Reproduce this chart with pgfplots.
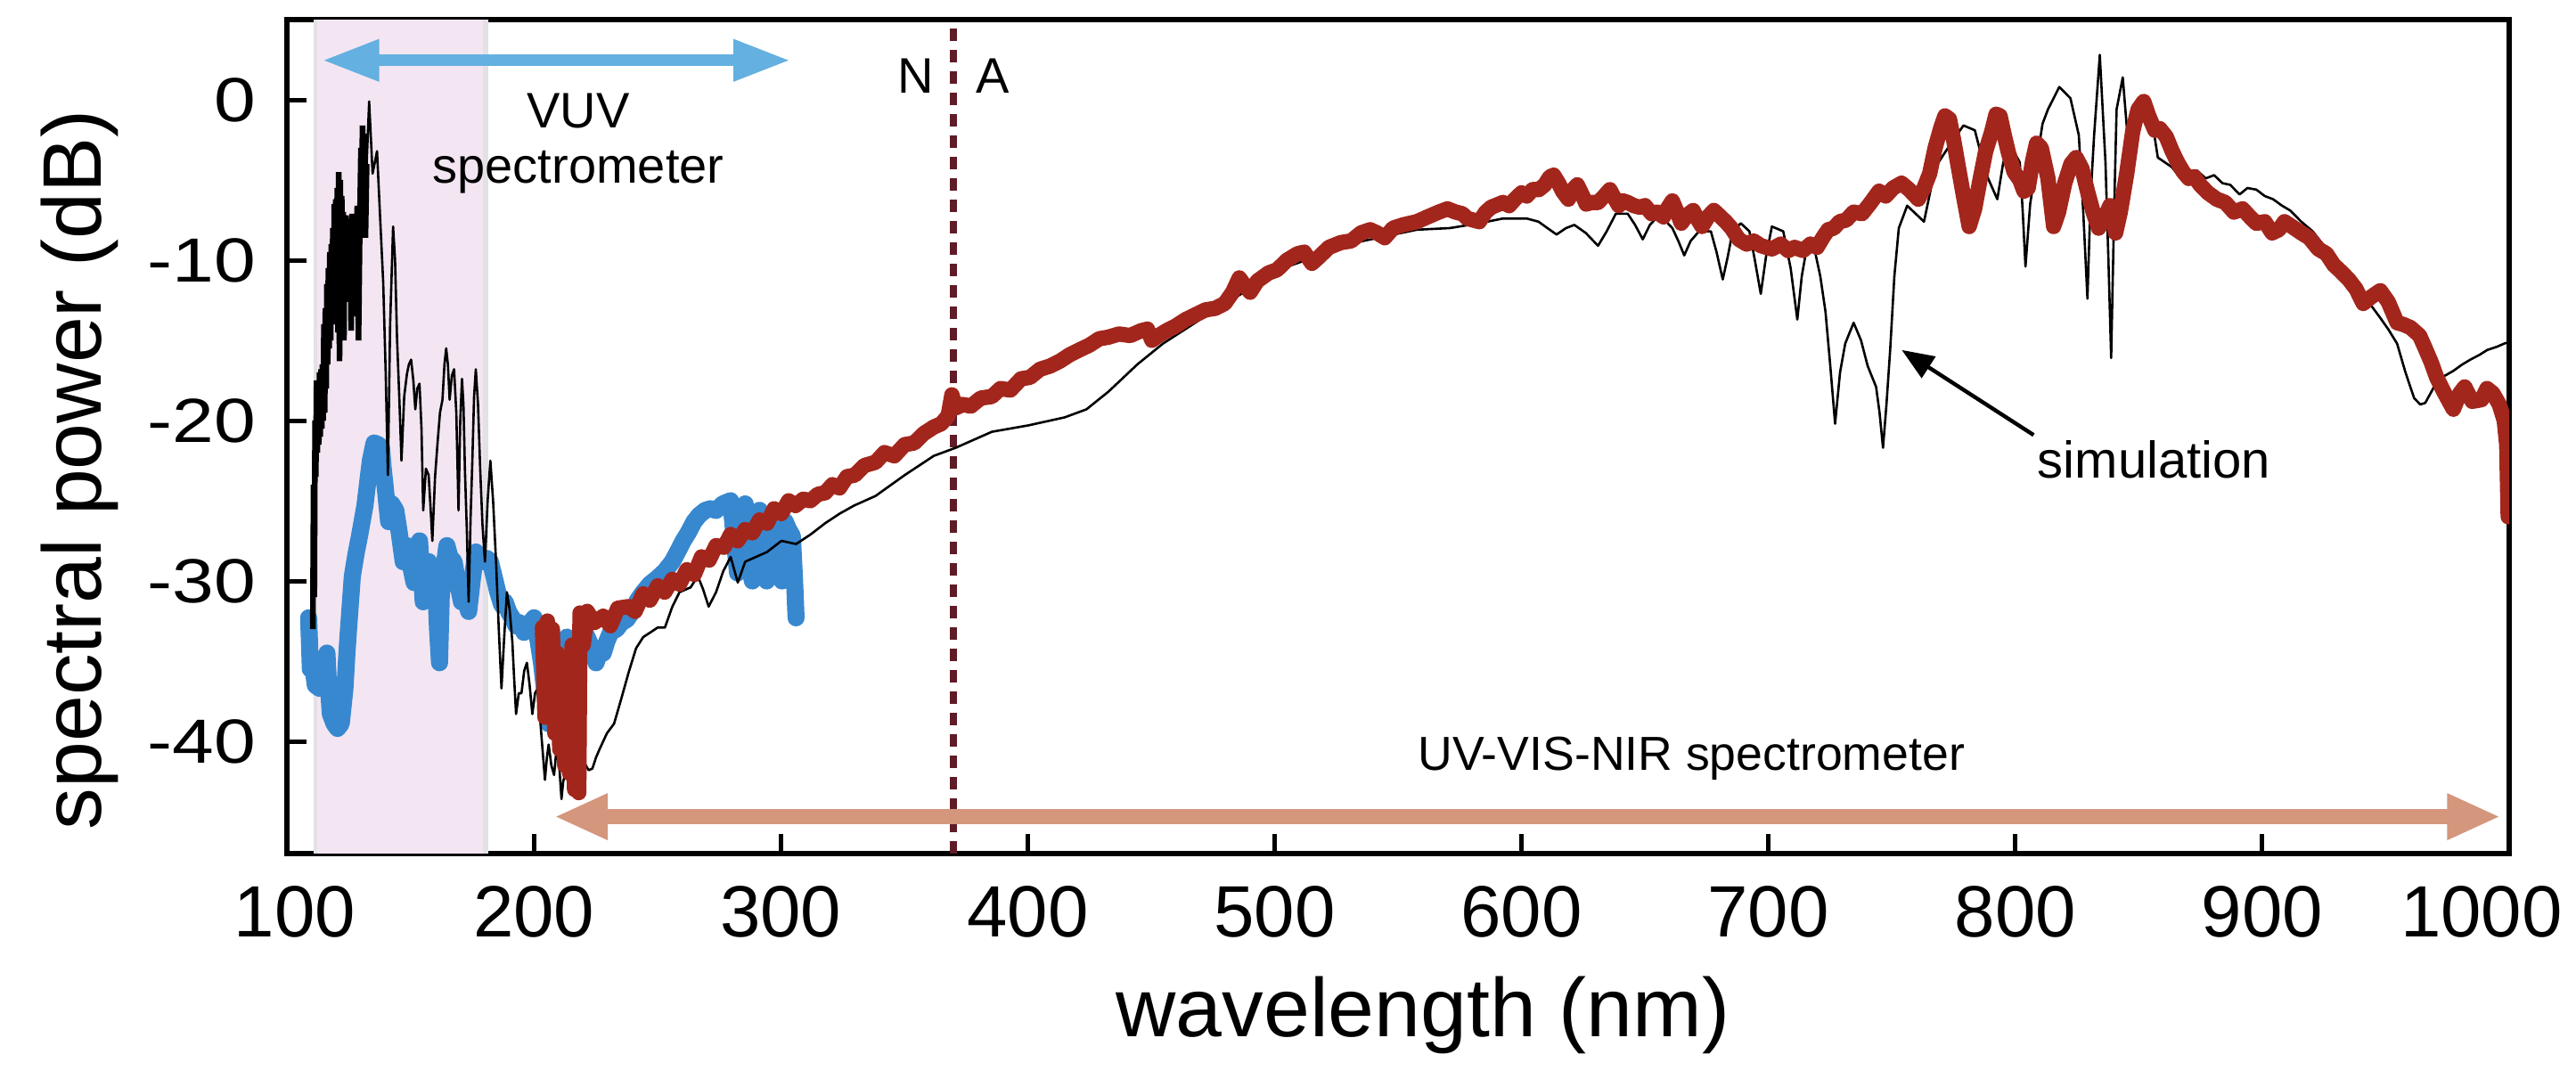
\documentclass[border=0pt]{standalone}
\usepackage{fontspec}
\setmainfont{Liberation Sans}
\newfontfamily\yfont[FakeStretch=1.2]{Liberation Sans}
\usepackage{pgfplots}
\pgfplotsset{compat=1.18}
\usetikzlibrary{arrows.meta}
\definecolor{redline}{RGB}{163,38,28}
\definecolor{blueline}{RGB}{56,136,208}
\definecolor{vuvarrow}{RGB}{100,176,224}
\definecolor{nirarrow}{RGB}{212,150,124}
\definecolor{bandfill}{RGB}{243,230,242}
\definecolor{bandedge}{RGB}{226,226,230}
\definecolor{naline}{RGB}{95,28,38}
\begin{document}
\begin{tikzpicture}
\begin{axis}[
  at={(0,0)}, anchor=south west, scale only axis,
  width=623.5bp, height=234bp,
  xmin=100, xmax=1000, ymin=-47, ymax=5,
  xtick={100,200,300,400,500,600,700,800,900,1000},
  xticklabels={{\hspace*{4.5bp}100},200,300,400,500,600,700,800,{\raisebox{2bp}{900}},{1000\hspace*{15.6bp}}},
  ytick={-40,-30,-20,-10,0},
  yticklabels={-40,-30,-20,-10,0},
  xtick pos=left, ytick pos=left,
  tick align=inside, major tick length=5.5bp,
  tick style={black, line width=1.25bp},
  axis line style={line width=1.5bp},
  xticklabel style={font=\fontsize{20.4bp}{24bp}\selectfont, anchor=north, inner sep=0pt, yshift=-9bp},
  yticklabel style={font=\yfont\fontsize{17.5bp}{20bp}\selectfont, anchor=east, inner sep=0pt, xshift=-8.5bp},
]
% shaded VUV band
\fill[bandfill] (axis cs:110.7,-47) rectangle (axis cs:181.7,5);
\fill[bandedge] (axis cs:110.7,-47) rectangle (axis cs:112.4,5);
\fill[bandedge] (axis cs:179.3,-47) rectangle (axis cs:181.7,5);
% N/A dashed line
\draw[naline, line width=2bp, dash pattern=on 3.5bp off 2.5bp] (axis cs:370,-47) -- (axis cs:370,5);

% VUV spectrometer data (blue)
\addplot[blueline, line width=4.8bp, line join=round, line cap=round] table[row sep=\\] {
x y\\
108.8 -32.3\\ 109.5 -35.5\\ 110.3 -35.1\\ 111.5 -36.5\\ 113.2 -36.7\\ 114.5 -35.5\\ 116.2 -34.5\\ 117.0 -37.0\\
117.6 -38.3\\ 119.1 -38.9\\ 120.5 -39.2\\ 122.0 -38.9\\ 123.5 -36.7\\ 124.3 -34.5\\ 125.0 -32.9\\ 126.5 -29.7\\
128.0 -28.3\\ 129.4 -27.2\\ 131.6 -25.3\\ 133.0 -23.5\\ 133.8 -22.5\\ 135.3 -21.4\\ 137.0 -21.5\\ 138.3 -21.7\\
139.0 -23.0\\ 139.7 -24.0\\ 141.2 -26.3\\ 142.5 -25.2\\ 144.1 -25.6\\ 145.5 -27.0\\ 147.1 -28.8\\ 148.6 -27.8\\
150.0 -29.0\\ 151.5 -30.1\\ 152.5 -28.0\\ 153.7 -27.5\\ 155.2 -31.3\\ 156.3 -29.0\\ 157.4 -28.8\\ 159.0 -29.5\\
160.3 -30.4\\ 161.0 -33.0\\ 161.8 -35.1\\ 162.5 -31.0\\ 163.3 -29.5\\ 164.8 -27.8\\ 166.0 -28.5\\ 167.7 -28.8\\
169.0 -30.0\\ 170.7 -31.3\\ 172.0 -31.0\\ 173.6 -31.9\\ 175.0 -30.0\\ 176.5 -28.2\\ 178.0 -28.5\\ 179.5 -28.8\\
181.0 -28.6\\ 182.4 -28.8\\ 184.0 -29.8\\ 185.4 -30.7\\ 187.0 -31.5\\ 188.3 -31.3\\ 190.0 -32.0\\ 191.3 -32.3\\
192.8 -32.8\\ 194.2 -32.6\\ 196.0 -33.2\\ 197.2 -32.9\\ 199.0 -32.5\\ 200.1 -32.3\\ 201.5 -33.5\\ 203.1 -35.1\\
204.5 -37.0\\ 206.0 -38.9\\ 207.5 -37.0\\ 209.0 -35.0\\ 211.0 -34.0\\ 213.4 -33.5\\ 215.5 -34.2\\ 217.8 -34.5\\
219.5 -33.6\\ 220.7 -33.2\\ 223.0 -34.0\\ 225.2 -35.1\\ 226.8 -34.4\\ 228.1 -34.5\\ 229.5 -33.8\\ 231.1 -33.2\\
233.5 -33.0\\ 235.5 -32.6\\ 237.7 -32.4\\ 239.9 -31.9\\ 242.0 -31.2\\ 244.3 -30.7\\ 247.0 -30.2\\ 250.2 -29.8\\
253.0 -29.4\\ 256.1 -28.8\\ 258.5 -28.1\\ 260.5 -27.5\\ 262.5 -27.0\\ 264.9 -26.3\\ 267.0 -25.9\\ 269.4 -25.6\\
271.5 -25.5\\ 273.8 -25.6\\ 276.5 -25.2\\ 279.7 -25.0\\ 281.0 -27.0\\ 282.5 -29.5\\ 284.0 -26.0\\ 285.6 -25.2\\
287.0 -28.5\\ 288.5 -30.0\\ 290.0 -26.0\\ 291.4 -25.6\\ 293.0 -29.0\\ 294.3 -30.0\\ 295.8 -26.5\\ 297.3 -25.9\\
299.0 -28.5\\ 300.5 -30.0\\ 301.8 -26.3\\ 303.2 -26.8\\ 304.7 -27.2\\ 305.6 -30.0\\ 306.2 -32.3\\
};

% simulation (black): dense part
\addplot[black, line width=1.6bp] table[row sep=\\] {
x y\\
110.5 -33.0\\ 110.8 -24.0\\ 111.1 -31.0\\ 111.4 -20.0\\ 111.7 -23.5\\ 112.0 -17.5\\ 112.3 -22.0\\ 112.6 -18.0\\
112.9 -21.5\\ 113.2 -17.0\\ 113.5 -21.0\\ 113.8 -16.8\\ 114.1 -20.5\\ 114.4 -16.5\\ 114.7 -20.0\\ 115.0 -14.0\\
115.3 -19.5\\ 115.6 -13.0\\ 115.9 -18.0\\ 116.2 -11.5\\ 116.5 -16.5\\ 116.8 -10.5\\ 117.1 -15.5\\ 117.4 -9.5\\
117.7 -15.0\\ 118.0 -9.0\\ 118.3 -14.0\\ 118.6 -8.0\\ 118.9 -13.0\\ 119.2 -6.5\\ 119.5 -12.0\\ 119.8 -6.2\\
120.1 -11.7\\ 120.4 -5.5\\ 120.7 -14.5\\ 121.0 -4.5\\ 121.3 -16.3\\ 121.6 -5.0\\ 121.9 -14.0\\ 122.2 -6.0\\
122.5 -12.0\\ 122.8 -7.0\\ 123.1 -15.0\\ 123.4 -7.5\\ 123.7 -12.5\\ 124.0 -7.2\\ 124.4 -12.6\\ 124.8 -8.0\\
125.2 -12.0\\ 125.6 -7.5\\ 126.0 -14.4\\ 126.5 -7.1\\ 127.0 -13.5\\ 127.5 -7.5\\ 128.0 -12.0\\ 128.5 -6.6\\
129.0 -15.0\\ 129.5 -8.0\\ 130.0 -3.0\\ 130.3 -8.6\\ 130.6 -1.6\\ 131.0 -8.0\\ 131.4 -2.1\\ 131.8 -8.6\\ 132.3 -4.0\\
};
% simulation (black): thin part
\addplot[black, line width=0.65bp, line join=round] table[row sep=\\] {
x y\\
132.3 -4.0\\ 133.3 -0.1\\ 134.7 -4.6\\ 136.5 -3.2\\ 137.8 -7.5\\ 139.0 -11.4\\ 140.0 -17.0\\ 140.9 -23.4\\
141.8 -14.0\\ 143.0 -7.9\\ 143.8 -10.0\\ 144.6 -14.9\\ 145.5 -18.5\\ 146.4 -22.5\\ 147.5 -18.5\\ 148.6 -17.1\\
149.4 -16.5\\ 150.3 -16.2\\ 151.2 -17.5\\ 152.0 -19.3\\ 152.8 -18.0\\ 153.7 -17.7\\ 154.5 -20.5\\ 155.2 -25.6\\
156.3 -23.0\\ 157.4 -23.4\\ 158.2 -25.5\\ 158.9 -27.5\\ 160.0 -23.5\\ 161.1 -21.2\\ 162.0 -19.5\\ 163.0 -18.7\\
163.8 -16.5\\ 164.5 -15.5\\ 165.2 -16.5\\ 165.9 -18.7\\ 166.8 -17.2\\ 167.7 -16.8\\ 168.6 -19.5\\ 169.5 -25.6\\
170.2 -20.0\\ 170.9 -17.4\\ 171.5 -19.0\\ 172.1 -23.1\\ 172.9 -27.0\\ 173.6 -31.3\\ 174.4 -26.0\\ 175.1 -22.5\\
175.8 -18.5\\ 176.5 -16.8\\ 177.4 -19.0\\ 178.3 -23.1\\ 179.2 -26.5\\ 180.2 -28.8\\ 181.3 -25.0\\ 182.4 -22.5\\
183.5 -25.0\\ 184.7 -28.8\\ 185.8 -33.0\\ 186.9 -36.7\\ 188.0 -33.5\\ 189.1 -30.7\\ 190.2 -31.8\\ 191.3 -33.8\\
192.0 -36.0\\ 192.8 -38.3\\ 193.9 -37.0\\ 195.0 -37.0\\ 196.1 -35.6\\ 197.2 -35.1\\ 198.3 -36.5\\ 199.4 -38.3\\
200.5 -37.0\\ 201.6 -36.7\\ 203.0 -39.5\\ 204.5 -42.4\\ 205.3 -41.0\\ 206.0 -40.2\\ 207.1 -41.5\\ 208.2 -42.1\\
209.0 -40.8\\ 209.7 -40.2\\ 210.5 -42.0\\ 211.2 -43.6\\ 211.9 -42.5\\ 212.6 -42.1\\ 213.7 -41.0\\ 214.8 -40.8\\
216.3 -41.5\\ 217.8 -41.5\\ 219.3 -41.2\\ 220.7 -41.4\\ 222.2 -41.8\\ 223.7 -41.7\\ 225.2 -41.0\\ 226.6 -40.5\\
229.6 -39.5\\ 232.5 -38.9\\ 235.5 -37.3\\ 238.4 -35.7\\ 241.4 -34.2\\ 244.3 -33.5\\ 247.3 -33.2\\ 250.2 -32.9\\
253.1 -32.9\\ 256.1 -31.6\\ 259.0 -30.7\\ 263.5 -30.4\\ 266.4 -29.7\\ 268.5 -30.5\\ 270.8 -31.6\\ 273.8 -30.7\\
276.7 -29.4\\ 279.7 -28.5\\ 282.6 -30.1\\ 285.6 -28.8\\ 290.0 -28.5\\ 294.4 -28.2\\ 300.3 -27.5\\ 306.2 -27.7\\
312.1 -27.1\\ 318.0 -26.4\\ 323.9 -25.8\\ 329.7 -25.3\\ 338.4 -24.7\\ 350.2 -23.4\\ 362.0 -22.2\\ 370.8 -21.7\\
385.5 -20.7\\ 400.3 -20.3\\ 415.0 -19.8\\ 423.8 -19.3\\ 432.7 -18.2\\ 444.4 -16.5\\ 454.8 -15.2\\ 473.9 -13.3\\
503.4 -10.5\\ 532.8 -8.9\\ 557.6 -8.1\\ 570.9 -8.0\\ 582.9 -7.7\\ 592.5 -7.4\\ 602.1 -7.4\\ 606.9 -7.6\\
610.5 -8.0\\ 614.2 -8.4\\ 618.0 -8.0\\ 621.4 -7.8\\ 626.0 -8.3\\ 631.0 -9.1\\ 634.5 -8.2\\ 638.2 -7.1\\
643.0 -7.1\\ 646.0 -7.8\\ 649.1 -8.7\\ 652.0 -7.8\\ 655.1 -7.3\\ 658.0 -7.5\\ 661.1 -8.0\\ 663.5 -8.8\\
665.9 -9.7\\ 668.5 -8.8\\ 671.9 -8.2\\ 676.7 -8.2\\ 679.0 -9.5\\ 681.5 -11.2\\ 683.5 -9.8\\ 685.5 -8.2\\
688.8 -7.7\\ 692.3 -8.2\\ 694.5 -10.0\\ 696.9 -12.1\\ 699.0 -9.8\\ 701.4 -7.9\\ 706.0 -8.2\\ 709.0 -10.5\\
711.7 -13.7\\ 713.5 -11.0\\ 715.1 -9.6\\ 718.5 -9.2\\ 721.0 -11.0\\ 723.1 -13.2\\ 725.0 -16.5\\ 727.0 -20.2\\
729.0 -17.0\\ 731.1 -15.2\\ 734.5 -13.9\\ 737.5 -15.0\\ 740.2 -16.6\\ 743.6 -17.9\\ 745.0 -19.5\\ 746.4 -21.7\\
747.8 -19.0\\ 749.3 -15.6\\ 751.0 -11.0\\ 752.8 -8.0\\ 756.2 -6.6\\ 763.0 -7.6\\ 767.6 -4.2\\ 774.4 -2.6\\
779.0 -1.6\\ 783.6 -1.9\\ 788.1 -4.6\\ 792.7 -6.2\\ 795.0 -4.0\\ 797.2 -2.6\\ 801.8 -3.9\\ 803.0 -7.0\\
804.1 -10.4\\ 806.0 -6.5\\ 808.6 -3.9\\ 811.0 -1.5\\ 813.2 -0.6\\ 817.8 0.8\\ 822.3 0.1\\ 825.7 -2.2\\
827.5 -7.0\\ 829.2 -12.4\\ 830.5 -6.0\\ 831.9 -2.2\\ 834.2 2.8\\ 836.5 -3.9\\ 837.7 -10.0\\ 838.8 -16.1\\
840.0 -7.0\\ 841.0 -0.6\\ 843.5 1.4\\ 846.3 -3.9\\ 849.7 -1.6\\ 854.3 -0.2\\ 857.7 -3.6\\ 863.4 -4.2\\
866.5 -4.8\\ 870.2 -4.9\\ 873.5 -4.4\\ 877.1 -4.9\\ 880.5 -4.7\\ 883.9 -5.2\\ 887.0 -5.3\\ 890.8 -5.9\\
894.0 -5.5\\ 897.6 -5.6\\ 901.0 -6.0\\ 904.4 -6.2\\ 908.0 -6.6\\ 911.3 -6.9\\ 915.8 -7.6\\ 920.4 -8.2\\
925.0 -9.1\\ 929.5 -9.9\\ 934.0 -10.7\\ 938.7 -11.6\\ 943.0 -12.6\\ 947.8 -13.6\\ 951.0 -14.3\\ 954.6 -15.2\\
958.0 -17.0\\ 961.5 -18.6\\ 964.0 -19.0\\ 966.0 -18.9\\ 968.5 -18.2\\ 970.6 -17.6\\ 974.0 -17.2\\ 977.4 -16.9\\
981.0 -16.5\\ 984.3 -16.2\\ 988.0 -15.9\\ 991.1 -15.6\\ 995.0 -15.4\\ 998.0 -15.2\\ 1000 -15.1\\
};

% UV-VIS-NIR spectrometer data (red)
\addplot[redline, line width=4.3bp, line join=round, line cap=round] table[row sep=\\] {
x y\\
203.5 -32.9\\ 204.5 -38.5\\ 205.5 -32.5\\ 206.5 -37.5\\ 207.5 -33.0\\ 208.5 -39.5\\ 209.5 -34.5\\ 210.5 -40.5\\
211.5 -35.5\\ 212.5 -41.5\\ 213.5 -36.0\\ 214.5 -42.0\\ 215.5 -34.0\\ 216.5 -43.0\\ 217.5 -38.0\\ 218.2 -43.2\\
218.7 -32.0\\ 220.0 -34.0\\ 221.6 -31.9\\ 224.5 -32.6\\ 228.1 -32.2\\ 231.0 -32.8\\ 234.0 -31.7\\ 238.4 -31.6\\
241.0 -31.9\\ 244.3 -30.8\\ 247.0 -31.2\\ 250.2 -30.3\\ 253.0 -30.7\\ 256.1 -29.9\\ 259.0 -30.2\\ 262.0 -29.3\\
265.0 -29.6\\ 267.9 -28.5\\ 271.0 -28.7\\ 273.8 -27.8\\ 277.0 -27.9\\ 279.7 -27.1\\ 282.5 -27.5\\ 285.6 -26.8\\
288.5 -27.0\\ 291.4 -26.2\\ 294.5 -26.4\\ 297.3 -25.5\\ 300.2 -25.8\\ 303.2 -25.0\\ 306.0 -25.3\\ 309.1 -24.9\\
312.0 -25.0\\ 315.0 -24.6\\ 318.0 -24.5\\ 320.9 -24.0\\ 323.8 -24.2\\ 326.8 -23.5\\ 330.0 -23.4\\ 333.9 -22.8\\
338.4 -22.6\\ 342.0 -22.0\\ 346.0 -22.2\\ 350.2 -21.5\\ 354.0 -21.4\\ 358.0 -20.8\\ 362.0 -20.4\\ 365.0 -20.2\\
367.8 -19.7\\ 369.3 -18.4\\ 371.0 -19.2\\ 373.7 -19.0\\ 377.0 -19.1\\ 381.0 -18.6\\ 385.5 -18.5\\ 389.0 -18.0\\
393.0 -18.1\\ 397.3 -17.4\\ 401.0 -17.3\\ 405.0 -16.8\\ 409.1 -16.6\\ 413.0 -16.3\\ 417.0 -15.9\\ 420.9 -15.6\\
425.0 -15.3\\ 429.0 -14.9\\ 432.7 -14.8\\ 437.0 -14.6\\ 441.5 -14.7\\ 445.9 -14.4\\ 448.5 -14.3\\ 450.3 -15.0\\
453.0 -14.7\\ 456.2 -14.4\\ 460.0 -14.1\\ 464.0 -13.7\\ 468.0 -13.4\\ 472.0 -13.1\\ 476.0 -13.0\\ 479.8 -12.7\\
483.0 -12.0\\ 485.7 -11.1\\ 488.0 -11.6\\ 490.1 -12.0\\ 493.0 -11.3\\ 497.5 -10.8\\ 501.0 -10.6\\ 505.0 -10.0\\
509.3 -9.6\\ 512.0 -9.5\\ 515.1 -10.2\\ 518.0 -9.8\\ 522.0 -9.2\\ 526.9 -8.9\\ 531.0 -8.8\\ 535.0 -8.3\\
538.7 -8.1\\ 541.5 -8.3\\ 544.6 -8.6\\ 548.0 -8.0\\ 552.0 -7.8\\ 557.6 -7.6\\ 562.0 -7.3\\ 566.5 -7.0\\
570.0 -6.8\\ 573.3 -7.0\\ 576.0 -7.1\\ 578.1 -7.4\\ 582.9 -7.6\\ 585.5 -7.0\\ 587.7 -6.7\\ 592.5 -6.4\\
595.0 -6.6\\ 597.3 -6.2\\ 600.0 -5.8\\ 602.1 -6.0\\ 604.5 -5.6\\ 607.0 -5.6\\ 609.4 -5.3\\ 611.5 -4.8\\
613.0 -4.7\\ 615.0 -5.2\\ 616.6 -5.7\\ 619.0 -6.2\\ 620.8 -5.6\\ 622.6 -5.3\\ 624.5 -5.9\\ 626.2 -6.5\\
628.5 -6.4\\ 631.0 -6.4\\ 633.5 -6.0\\ 635.8 -5.6\\ 637.5 -6.1\\ 639.4 -6.6\\ 641.0 -6.3\\ 643.0 -6.4\\
645.5 -6.6\\ 647.9 -6.7\\ 650.0 -6.6\\ 652.7 -7.1\\ 655.0 -7.0\\ 657.5 -7.3\\ 659.0 -6.8\\ 661.1 -6.3\\
663.0 -7.0\\ 664.7 -7.7\\ 667.0 -7.2\\ 669.5 -6.9\\ 671.5 -7.5\\ 673.1 -7.9\\ 675.5 -7.3\\ 677.9 -6.9\\
680.0 -7.2\\ 682.7 -7.6\\ 685.0 -8.0\\ 688.0 -8.7\\ 691.2 -9.0\\ 694.0 -8.8\\ 697.0 -9.1\\ 701.4 -9.3\\
705.0 -9.0\\ 708.0 -9.4\\ 710.6 -9.2\\ 714.0 -9.4\\ 717.0 -9.0\\ 719.7 -9.2\\ 722.0 -8.6\\ 724.2 -8.1\\
726.5 -8.0\\ 728.8 -7.6\\ 731.5 -7.5\\ 734.5 -7.0\\ 737.9 -7.1\\ 741.0 -6.5\\ 744.8 -5.7\\ 747.5 -6.0\\
750.5 -5.5\\ 753.9 -5.2\\ 757.0 -5.6\\ 760.7 -6.2\\ 763.0 -5.5\\ 765.3 -4.6\\ 767.5 -3.0\\ 769.9 -1.7\\
771.5 -1.0\\ 773.3 -1.2\\ 775.0 -2.5\\ 776.7 -4.0\\ 779.0 -6.0\\ 781.3 -7.9\\ 783.5 -6.8\\ 785.8 -4.9\\
788.0 -3.2\\ 790.4 -2.0\\ 792.2 -0.9\\ 793.8 -1.0\\ 795.5 -2.2\\ 797.2 -3.3\\ 799.5 -4.5\\ 801.8 -5.0\\
803.5 -5.7\\ 805.2 -5.5\\ 807.0 -3.8\\ 808.6 -2.7\\ 810.5 -3.0\\ 813.2 -4.9\\ 815.5 -7.9\\ 817.5 -7.0\\
820.0 -5.2\\ 822.5 -4.0\\ 824.6 -3.6\\ 827.0 -4.3\\ 829.2 -5.7\\ 831.5 -7.0\\ 833.7 -8.0\\ 836.0 -7.4\\
838.3 -6.6\\ 840.6 -8.3\\ 842.5 -7.0\\ 845.1 -4.6\\ 847.5 -2.0\\ 849.7 -0.6\\ 852.0 -0.1\\ 854.0 -1.0\\
856.5 -1.9\\ 858.5 -1.8\\ 861.1 -2.3\\ 863.5 -3.2\\ 865.7 -3.9\\ 868.0 -4.5\\ 870.2 -4.9\\ 872.5 -4.8\\
874.8 -5.3\\ 878.0 -5.8\\ 881.6 -6.2\\ 885.0 -6.4\\ 888.5 -7.0\\ 892.0 -6.8\\ 895.0 -7.3\\ 897.6 -7.7\\
901.0 -7.6\\ 904.0 -8.3\\ 906.7 -8.1\\ 909.0 -7.6\\ 912.0 -7.9\\ 915.8 -8.3\\ 919.0 -8.6\\ 922.7 -9.3\\
926.0 -9.6\\ 929.0 -10.3\\ 931.8 -10.7\\ 935.0 -11.2\\ 938.0 -11.8\\ 940.9 -12.7\\ 944.0 -12.3\\ 947.8 -11.9\\
951.0 -12.6\\ 954.6 -13.9\\ 957.0 -14.0\\ 960.0 -14.2\\ 963.7 -14.7\\ 966.0 -15.5\\ 968.5 -16.4\\ 970.6 -17.3\\
973.5 -18.2\\ 977.4 -19.3\\ 980.0 -18.3\\ 982.0 -17.9\\ 985.0 -18.8\\ 988.8 -18.7\\ 991.0 -18.0\\ 993.4 -18.3\\
996.0 -19.0\\ 998.0 -20.0\\ 999.0 -21.5\\ 999.6 -26.0\\
};

% spectrometer range arrows
\draw[vuvarrow, line width=3.3bp, {Triangle[length=16bp,width=11bp]}-{Triangle[length=16bp,width=11bp]}]
  (axis cs:114.3,2.46) -- (axis cs:303.9,2.46);
\draw[nirarrow, line width=4.2bp, {Triangle[length=15bp,width=12bp]}-{Triangle[length=15bp,width=12bp]}]
  (axis cs:208.3,-44.7) -- (axis cs:996.5,-44.7);

% annotations
\node[font=\fontsize{14bp}{15.5bp}\selectfont, align=center, anchor=north, inner sep=0pt]
  at (axis cs:218,0.44) {VUV\\spectrometer};
\node[font=\fontsize{14bp}{16bp}\selectfont, anchor=base, inner sep=0pt] at (axis cs:354.6,0.44) {N};
\node[font=\fontsize{14bp}{16bp}\selectfont, anchor=base, inner sep=0pt] at (axis cs:386,0.44) {A};
\node[font=\fontsize{14.5bp}{17bp}\selectfont, anchor=base, inner sep=0pt] at (axis cs:856.2,-23.6) {simulation};
\draw[black, line width=1.1bp, -{Triangle[length=9bp,width=7bp]}] (axis cs:807.4,-20.9) -- (axis cs:754,-15.6);
\node[font=\fontsize{13.4bp}{16bp}\selectfont, anchor=base, inner sep=0pt] at (axis cs:668.8,-41.8) {UV-VIS-NIR spectrometer};
\end{axis}
% axis labels
\node[font=\fontsize{23.3bp}{28bp}\selectfont, rotate=90, anchor=base, inner sep=0pt] at (-52bp,107.75bp) {spectral power (dB)};
\node[font=\fontsize{23.3bp}{28bp}\selectfont, anchor=base, inner sep=0pt] at (318.75bp,-51.25bp) {wavelength (nm)};
\pgfresetboundingbox
\useasboundingbox (-80.5bp,-63.25bp) rectangle (642.25bp,239.5bp);
\end{tikzpicture}
\end{document}
